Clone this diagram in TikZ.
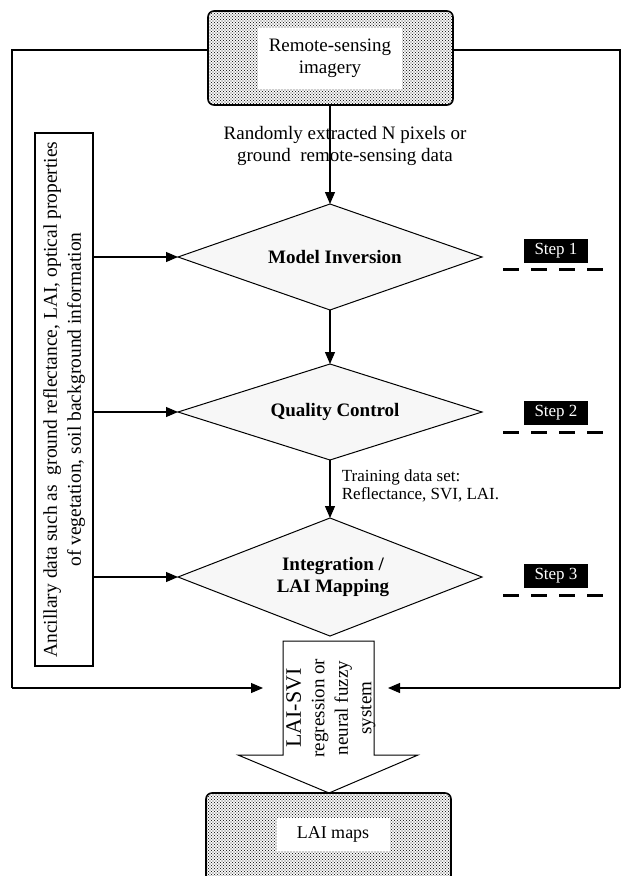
\documentclass[tikz,border=0pt]{standalone}
\usepackage{fontspec}
\setmainfont{Liberation Serif}
\usetikzlibrary{arrows.meta,patterns}
\pgfdeclarepatternformonly{bigdots}{\pgfqpoint{-1pt}{-1pt}}{\pgfqpoint{2.2pt}{2.2pt}}{\pgfqpoint{3pt}{3pt}}{%
  \pgfpathcircle{\pgfqpoint{0pt}{0pt}}{0.62pt}%
  \pgfpathcircle{\pgfqpoint{1.5pt}{1.5pt}}{0.62pt}%
  \pgfusepath{fill}}
\begin{document}
\begin{tikzpicture}[x=1pt,y=-1pt,
  line width=1.1pt,
  arr/.style={-{Triangle[length=12pt,width=10pt]}},
  dotbox/.style={draw,rounded corners=6pt,line width=1.6pt,pattern=bigdots,pattern color=black!85},
  whitebox/.style={fill=white,draw=none},
  dia/.style={draw,fill=black!3,line width=1pt},
  stepbox/.style={fill=black,text=white,minimum width=64pt,minimum height=24pt,inner sep=0pt,font=\fontsize{17}{17}\selectfont},
  stepline/.style={line width=3pt,dash pattern=on 16pt off 12pt},
  txt/.style={font=\fontsize{19}{22}\selectfont,align=center},
  btxt/.style={font=\fontsize{19}{22}\selectfont\bfseries,align=center}
]
\useasboundingbox (0,0) rectangle (621,876);
% top box
\draw[dotbox] (208,11) rectangle (453,105);
\fill[whitebox] (258,28) rectangle (402,89);
\node[txt] (rs) at (330,58) {Remote-sensing\\imagery};
\coordinate (rsb) at (330,105);
% diamonds
\draw[dia] (178,257) -- (330,204) -- (482,257) -- (330,310) -- cycle;
\coordinate (d1t) at (330,204); \coordinate (d1b) at (330,310); \coordinate (d1l) at (178,257);
\node[btxt] (mi) at (335,257) {Model Inversion};
\draw[dia] (178,412) -- (330,364) -- (482,412) -- (330,460) -- cycle;
\coordinate (d2t) at (330,364); \coordinate (d2b) at (330,460); \coordinate (d2l) at (178,412);
\node[btxt] (q) at (335,412) {Quality Control};
\draw[dia] (178,577) -- (330,518) -- (482,577) -- (330,636) -- cycle;
\coordinate (d3t) at (330,518); \coordinate (d3l) at (178,577);
\node[btxt] (im) at (333,577) {Integration /\\LAI Mapping};
% vertical arrows
\draw[arr] (rsb) -- (d1t);
\draw[arr] (d1b) -- (d2t);
\draw[arr] (d2b) -- (d3t);
\node[txt] (lab1) at (345,146) {Randomly extracted N pixels or\\ground\ \ remote-sensing data};
\node[font=\fontsize{17}{18}\selectfont,align=left,anchor=west] (lab2) at (338,486) {Training data set:\\Reflectance, SVI, LAI.};
% left box
\node[draw,line width=1.3pt,minimum width=533pt,minimum height=58pt,rotate=90,inner sep=0pt,font=\fontsize{19.5}{24}\selectfont,align=center] (anc) at (64,399.5) {Ancillary data such as\ \ ground reflectance, LAI, optical properties\\of vegetation, soil background information};
\coordinate (a1) at (93,257); \coordinate (a2) at (93,412); \coordinate (a3) at (93,577);
\draw[arr] (a1) -- (d1l);
\draw[arr] (a2) -- (d2l);
\draw[arr] (a3) -- (d3l);
% steps
\node[stepbox] (s1) at (556,251) {Step 1};
\node[stepbox] (s2) at (556,413) {Step 2};
\node[stepbox] (s3) at (556,576) {Step 3};
\draw[stepline] (503,269) -- (604,269);
\draw[stepline] (503,432) -- (604,432);
\draw[stepline] (503,595) -- (604,595);
% big arrow
\draw[fill=white,line width=1pt] (283,641) -- (374,641) -- (374,755) -- (418,755) -- (329,793) -- (238,755) -- (283,755) -- cycle;
\node[rotate=90,align=center,font=\fontsize{19}{23.5}\selectfont] (reg) at (331,708) {{\fontsize{22}{23.5}\selectfont LAI-SVI}\\regression or\\neural fuzzy\\system};
% feedback
\coordinate (fl) at (12,50); \coordinate (fr) at (620,50);
\coordinate (bl) at (12,688); \coordinate (br) at (620,688);
\coordinate (tl) at (263,688); \coordinate (tr) at (388,688);
\draw (208,50) -- (fl) -- (bl);
\draw[arr] (bl) -- (tl);
\draw (453,50) -- (fr) -- (br);
\draw[arr] (br) -- (tr);
% bottom box
\draw[dotbox] (206,793) rectangle (451,886);
\fill[whitebox] (277,818) rectangle (390,851);
\node[txt,font=\fontsize{18}{20}\selectfont] (lai) at (333,834) {LAI maps};
\end{tikzpicture}
\end{document}
